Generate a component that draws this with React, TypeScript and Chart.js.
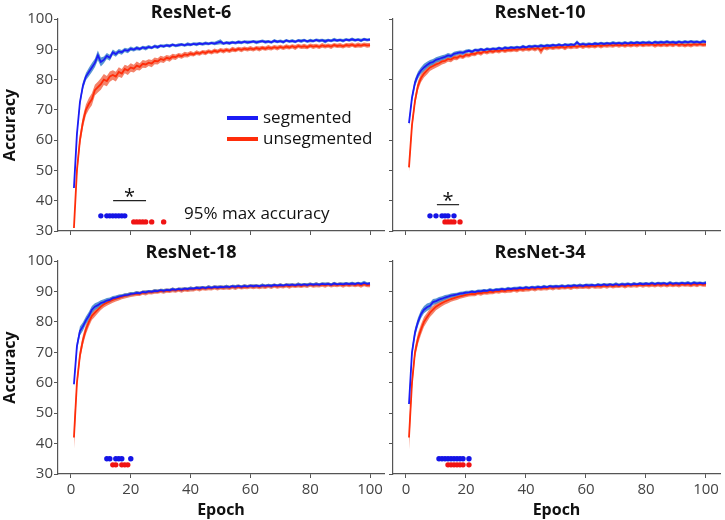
import React, { useEffect, useRef } from 'react';
import { Chart, registerables } from 'chart.js';
Chart.register(...registerables);

const FONT = "'Open Sans', 'DejaVu Sans', sans-serif";

// ---------- data ----------
const EPOCHS = Array.from({ length: 100 }, (_, i) => i + 1);
const X_TICKS = [0, 20, 40, 60, 80, 100];
const Y_TICKS = [30, 40, 50, 60, 70, 80, 90, 100];
const SERIES_NAMES = ['segmented', 'unsegmented'];
const TITLES = ['ResNet-6', 'ResNet-10', 'ResNet-18', 'ResNet-34'];
const SIG_SEG_Y = 35;
const SIG_UNSEG_Y = 33;

const R6_SEG = [
  44.2, 62.0, 72.5, 78.0, 81.0, 82.5, 84.0, 85.5, 88.0, 85.8,
  86.5, 87.8, 87.2, 89.0, 88.4, 89.3, 89.0, 89.8, 89.5, 90.2,
  89.9, 90.4, 90.1, 90.6, 90.3, 90.8, 90.5, 91.0, 90.7, 91.2,
  91.0, 91.3, 91.1, 91.5, 91.2, 91.4, 91.6, 91.3, 91.7, 91.5,
  91.8, 91.6, 91.9, 91.7, 92.0, 91.8, 92.1, 91.9, 92.2, 92.5,
  91.9, 92.2, 92.0, 92.3, 92.1, 92.4, 92.2, 92.5, 92.3, 92.4,
  92.6, 92.3, 92.5, 92.7, 92.4, 92.6, 92.3, 92.8, 92.5, 92.7,
  92.4, 92.9, 92.6, 92.8, 92.5, 92.9, 92.7, 93.0, 92.6, 92.9,
  92.7, 93.1, 92.8, 93.0, 92.6, 93.0, 92.8, 93.2, 92.9, 93.1,
  92.8, 93.2, 93.0, 93.3, 93.0, 93.2, 92.9, 93.3, 93.1, 93.2,
];
const R6_SEG_SD = [
  0.4, 1.0, 1.2, 1.3, 1.2, 1.4, 1.5, 1.4, 1.6, 1.5,
  1.1, 1.0, 1.0, 0.9, 0.9, 0.8, 0.8, 0.7, 0.8, 0.7,
  0.6, 0.7, 0.6, 0.6, 0.7, 0.6, 0.5, 0.6, 0.6, 0.5,
  0.6, 0.5, 0.6, 0.5, 0.5, 0.6, 0.5, 0.5, 0.6, 0.5,
  0.5, 0.6, 0.5, 0.5, 0.6, 0.5, 0.5, 0.6, 0.7, 0.8,
  0.5, 0.5, 0.6, 0.5, 0.5, 0.6, 0.5, 0.5, 0.6, 0.5,
  0.5, 0.6, 0.5, 0.5, 0.6, 0.5, 0.5, 0.6, 0.5, 0.5,
  0.6, 0.5, 0.5, 0.6, 0.5, 0.5, 0.6, 0.5, 0.5, 0.6,
  0.5, 0.5, 0.6, 0.5, 0.7, 0.5, 0.5, 0.6, 0.5, 0.5,
  0.6, 0.5, 0.5, 0.6, 0.5, 0.5, 0.6, 0.5, 0.5, 0.5,
];
const R6_UNSEG = [
  31.0, 50.0, 60.0, 66.0, 70.0, 72.0, 73.5, 76.5, 77.5, 78.5,
  80.0, 79.5, 81.0, 81.5, 81.0, 82.5, 82.0, 83.5, 83.0, 84.0,
  83.6, 84.6, 84.2, 85.2, 85.0, 85.6, 85.3, 86.2, 86.0, 86.8,
  86.5, 87.2, 86.9, 87.6, 87.4, 88.0, 87.7, 88.3, 88.1, 88.6,
  88.3, 88.9, 88.6, 89.1, 88.8, 89.3, 89.0, 89.5, 89.2, 89.7,
  89.4, 89.8, 89.5, 90.0, 89.7, 90.1, 89.8, 90.2, 90.0, 90.3,
  90.0, 90.4, 90.1, 90.5, 90.2, 90.6, 90.3, 90.7, 90.4, 90.8,
  90.5, 90.9, 90.6, 91.0, 90.6, 91.1, 90.8, 91.0, 90.7, 91.2,
  90.9, 91.1, 90.8, 91.3, 91.0, 91.2, 90.9, 91.4, 91.1, 91.3,
  91.0, 91.4, 91.2, 91.5, 91.1, 91.4, 91.2, 91.5, 91.3, 91.4,
];
const R6_UNSEG_SD = [
  0.5, 1.8, 2.0, 1.9, 1.8, 1.9, 2.0, 1.8, 1.8, 1.9,
  1.8, 1.7, 1.7, 1.6, 1.6, 1.6, 1.5, 1.4, 1.5, 1.4,
  1.3, 1.4, 1.2, 1.3, 1.2, 1.1, 1.2, 1.1, 1.0, 1.1,
  1.0, 0.9, 1.0, 0.9, 0.9, 0.8, 0.8, 0.9, 0.8, 0.8,
  0.7, 0.8, 0.7, 0.7, 0.8, 0.7, 0.7, 0.8, 0.7, 0.7,
  0.8, 0.7, 0.7, 0.8, 0.7, 0.7, 0.8, 0.7, 0.7, 0.8,
  0.7, 0.7, 0.8, 0.7, 0.7, 0.8, 0.7, 0.7, 0.8, 0.7,
  0.7, 0.8, 0.7, 0.7, 0.8, 0.7, 0.7, 0.8, 0.7, 0.7,
  0.8, 0.7, 0.7, 0.8, 0.7, 0.7, 0.8, 0.7, 0.7, 0.8,
  0.7, 0.7, 0.8, 0.7, 0.7, 0.8, 0.7, 0.7, 0.8, 0.7,
];
const R10_SEG = [
  65.6, 74.0, 79.0, 81.5, 83.0, 84.0, 84.8, 85.5, 85.8, 86.5,
  86.8, 87.2, 87.5, 88.0, 87.8, 88.5, 88.7, 89.0, 88.8, 89.3,
  89.5, 89.2, 89.8, 89.6, 90.0, 89.7, 90.1, 89.9, 90.2, 90.0,
  90.4, 90.1, 90.5, 90.3, 90.6, 90.4, 90.7, 90.5, 90.9, 90.6,
  91.0, 90.8, 91.1, 90.9, 91.2, 91.0, 91.3, 91.1, 91.4, 91.2,
  91.5, 91.2, 91.6, 91.3, 91.6, 91.4, 92.3, 91.5, 91.8, 91.5,
  91.8, 91.6, 91.9, 91.7, 92.0, 91.7, 92.0, 91.8, 92.1, 91.9,
  92.1, 91.8, 92.2, 91.9, 92.2, 92.0, 92.3, 92.0, 92.3, 92.1,
  92.3, 92.0, 92.4, 92.1, 92.4, 92.2, 92.5, 92.2, 92.4, 92.1,
  92.5, 92.2, 92.5, 92.3, 92.6, 92.3, 92.5, 92.2, 92.6, 92.4,
];
const R10_SEG_SD = [
  0.8, 1.2, 1.3, 1.2, 1.1, 1.2, 1.1, 1.0, 1.0, 0.9,
  0.9, 0.8, 0.8, 0.8, 0.7, 0.7, 0.7, 0.6, 0.7, 0.6,
  0.6, 0.6, 0.5, 0.6, 0.5, 0.5, 0.6, 0.5, 0.5, 0.6,
  0.5, 0.5, 0.6, 0.5, 0.5, 0.6, 0.5, 0.5, 0.6, 0.5,
  0.5, 0.6, 0.5, 0.5, 0.6, 0.5, 0.5, 0.6, 0.5, 0.5,
  0.6, 0.5, 0.5, 0.6, 0.5, 0.5, 0.7, 0.5, 0.5, 0.6,
  0.5, 0.5, 0.6, 0.5, 0.5, 0.6, 0.5, 0.5, 0.6, 0.5,
  0.5, 0.6, 0.5, 0.5, 0.6, 0.5, 0.5, 0.6, 0.5, 0.5,
  0.6, 0.5, 0.5, 0.6, 0.5, 0.5, 0.6, 0.5, 0.5, 0.6,
  0.5, 0.5, 0.6, 0.5, 0.5, 0.6, 0.5, 0.5, 0.6, 0.5,
];
const R10_UNSEG = [
  51.0, 65.0, 73.0, 78.0, 80.5, 82.0, 83.0, 84.0, 84.5, 85.0,
  85.4, 86.0, 86.2, 86.8, 86.6, 87.3, 87.2, 87.8, 87.5, 88.2,
  88.0, 88.6, 88.4, 89.0, 88.7, 89.3, 89.0, 89.5, 89.2, 89.6,
  89.4, 89.8, 89.5, 89.9, 89.7, 90.0, 89.8, 90.2, 89.9, 90.3,
  90.0, 90.4, 90.1, 90.5, 89.6, 90.6, 90.4, 90.7, 90.5, 90.8,
  90.6, 90.9, 90.5, 91.0, 90.7, 91.1, 90.8, 91.2, 90.9, 91.2,
  91.0, 91.3, 91.0, 91.4, 91.1, 91.4, 91.2, 91.5, 91.2, 91.5,
  91.3, 91.5, 91.2, 91.6, 91.3, 91.6, 91.4, 91.7, 91.4, 91.7,
  91.5, 91.7, 91.3, 91.6, 91.4, 91.7, 91.4, 91.7, 91.5, 91.8,
  91.4, 91.7, 91.3, 91.6, 91.4, 91.7, 91.5, 91.8, 91.5, 91.6,
];
const R10_UNSEG_SD = [
  1.5, 1.7, 1.6, 1.5, 1.4, 1.3, 1.3, 1.2, 1.1, 1.1,
  1.0, 1.0, 0.9, 0.9, 0.9, 0.8, 0.8, 0.8, 0.7, 0.8,
  0.7, 0.8, 0.7, 0.7, 0.8, 0.7, 0.7, 0.8, 0.7, 0.7,
  0.8, 0.7, 0.7, 0.8, 0.7, 0.7, 0.8, 0.7, 0.7, 0.8,
  0.7, 0.7, 0.8, 0.7, 1.3, 0.7, 0.8, 0.7, 0.7, 0.8,
  0.7, 0.7, 0.8, 0.7, 0.7, 0.8, 0.7, 0.7, 0.8, 0.7,
  0.7, 0.8, 0.7, 0.7, 0.8, 0.7, 0.7, 0.8, 0.7, 0.7,
  0.8, 0.7, 0.7, 0.8, 0.7, 0.7, 0.8, 0.7, 0.7, 0.8,
  0.7, 0.7, 0.8, 0.7, 0.7, 0.8, 0.7, 0.7, 0.8, 0.7,
  0.7, 0.8, 0.7, 0.7, 0.8, 0.7, 0.7, 0.8, 0.7, 0.7,
];
const R18_SEG = [
  59.5, 72.0, 77.0, 78.5, 80.5, 82.0, 84.0, 85.0, 85.5, 86.2,
  86.5, 87.0, 87.2, 87.8, 88.0, 88.3, 88.5, 88.8, 88.9, 89.2,
  89.3, 89.5, 89.4, 89.8, 89.7, 90.0, 89.9, 90.2, 90.1, 90.4,
  90.2, 90.5, 90.4, 90.7, 90.5, 90.8, 90.6, 90.9, 90.8, 91.0,
  90.9, 91.2, 91.0, 91.3, 91.1, 91.4, 91.2, 91.5, 91.3, 91.5,
  91.4, 91.6, 91.4, 91.7, 91.5, 91.8, 91.5, 91.8, 91.6, 91.9,
  91.7, 91.9, 91.7, 92.0, 91.8, 92.0, 91.8, 92.1, 91.9, 92.1,
  91.9, 92.2, 92.0, 92.2, 92.0, 92.3, 92.1, 92.3, 92.1, 92.4,
  92.2, 92.4, 92.2, 92.5, 92.3, 92.5, 92.2, 92.6, 92.3, 92.5,
  92.3, 92.6, 92.4, 92.6, 92.4, 92.7, 92.4, 92.8, 92.5, 92.6,
];
const R18_SEG_SD = [
  1.0, 1.4, 1.5, 1.4, 1.3, 1.3, 1.2, 1.1, 1.0, 0.9,
  0.9, 0.8, 0.8, 0.7, 0.7, 0.7, 0.6, 0.6, 0.6, 0.6,
  0.5, 0.6, 0.5, 0.5, 0.6, 0.5, 0.5, 0.6, 0.5, 0.5,
  0.6, 0.5, 0.5, 0.6, 0.5, 0.5, 0.6, 0.5, 0.5, 0.6,
  0.5, 0.5, 0.6, 0.5, 0.5, 0.6, 0.5, 0.5, 0.6, 0.5,
  0.5, 0.6, 0.5, 0.5, 0.6, 0.5, 0.5, 0.6, 0.5, 0.5,
  0.6, 0.5, 0.5, 0.6, 0.5, 0.5, 0.6, 0.5, 0.5, 0.6,
  0.5, 0.5, 0.6, 0.5, 0.5, 0.6, 0.5, 0.5, 0.6, 0.5,
  0.5, 0.6, 0.5, 0.5, 0.6, 0.5, 0.5, 0.6, 0.5, 0.5,
  0.6, 0.5, 0.5, 0.6, 0.5, 0.5, 0.6, 0.7, 0.5, 0.5,
];
const R18_UNSEG = [
  42.0, 60.0, 69.0, 74.0, 77.5, 80.0, 82.0, 83.0, 84.0, 85.0,
  85.8, 86.3, 86.8, 87.2, 87.6, 87.9, 88.2, 88.5, 88.7, 89.0,
  89.0, 89.3, 89.2, 89.6, 89.5, 89.8, 89.7, 90.0, 89.9, 90.2,
  90.0, 90.3, 90.2, 90.5, 90.3, 90.6, 90.4, 90.7, 90.5, 90.8,
  90.7, 91.0, 90.8, 91.1, 90.9, 91.2, 91.0, 91.3, 91.1, 91.3,
  91.2, 91.4, 91.2, 91.5, 91.3, 91.6, 91.3, 91.6, 91.4, 91.7,
  91.5, 91.7, 91.4, 91.8, 91.5, 91.8, 91.6, 91.9, 91.6, 91.9,
  91.7, 92.0, 91.7, 92.0, 91.8, 92.1, 91.8, 92.1, 91.9, 92.2,
  91.9, 92.2, 92.0, 92.2, 92.0, 92.3, 92.0, 92.3, 92.1, 92.3,
  92.0, 92.3, 92.1, 92.4, 92.1, 92.3, 92.0, 92.4, 92.1, 92.2,
];
const R18_UNSEG_SD = [
  4.0, 1.9, 1.8, 1.7, 1.6, 1.5, 1.4, 1.3, 1.2, 1.1,
  1.1, 1.0, 1.0, 0.9, 0.9, 0.9, 0.8, 0.8, 0.8, 0.8,
  0.7, 0.8, 0.7, 0.7, 0.8, 0.7, 0.7, 0.8, 0.7, 0.7,
  0.8, 0.7, 0.7, 0.8, 0.7, 0.7, 0.8, 0.7, 0.7, 0.8,
  0.7, 0.7, 0.8, 0.7, 0.7, 0.8, 0.7, 0.7, 0.8, 0.7,
  0.7, 0.8, 0.7, 0.7, 0.8, 0.7, 0.7, 0.8, 0.7, 0.7,
  0.8, 0.7, 0.7, 0.8, 0.7, 0.7, 0.8, 0.7, 0.7, 0.8,
  0.7, 0.7, 0.8, 0.7, 0.7, 0.8, 0.7, 0.7, 0.8, 0.7,
  0.7, 0.8, 0.7, 0.7, 0.8, 0.7, 0.7, 0.8, 0.7, 0.7,
  0.8, 0.7, 0.7, 0.8, 0.7, 0.7, 0.8, 0.7, 0.7, 0.8,
];
const R34_SEG = [
  53.0, 70.0, 76.5, 80.0, 82.5, 84.0, 84.8, 85.3, 86.5, 86.8,
  87.3, 87.6, 88.0, 88.3, 88.6, 88.8, 89.0, 89.3, 89.4, 89.6,
  89.7, 89.9, 89.8, 90.1, 90.0, 90.3, 90.2, 90.5, 90.3, 90.6,
  90.5, 90.8, 90.6, 90.9, 90.8, 91.0, 90.9, 91.2, 91.0, 91.3,
  91.1, 91.4, 91.2, 91.5, 91.3, 91.6, 91.4, 91.7, 91.5, 91.7,
  91.6, 91.8, 91.6, 91.9, 91.7, 92.0, 91.8, 92.0, 91.8, 92.1,
  91.9, 92.1, 91.9, 92.2, 92.0, 92.3, 92.0, 92.3, 92.1, 92.4,
  92.1, 92.4, 92.2, 92.5, 92.2, 92.5, 92.3, 92.6, 92.3, 92.6,
  92.4, 92.7, 92.4, 92.7, 92.5, 92.7, 92.4, 92.8, 92.5, 92.7,
  92.5, 92.8, 92.6, 92.8, 92.5, 92.9, 92.6, 92.8, 92.6, 92.8,
];
const R34_SEG_SD = [
  1.2, 1.5, 1.5, 1.4, 1.3, 1.2, 1.2, 1.1, 1.0, 0.9,
  0.9, 0.8, 0.8, 0.7, 0.7, 0.7, 0.6, 0.6, 0.6, 0.6,
  0.5, 0.6, 0.5, 0.5, 0.6, 0.5, 0.5, 0.6, 0.5, 0.5,
  0.6, 0.5, 0.5, 0.6, 0.5, 0.5, 0.6, 0.5, 0.5, 0.6,
  0.5, 0.5, 0.6, 0.5, 0.5, 0.6, 0.5, 0.5, 0.6, 0.5,
  0.5, 0.6, 0.5, 0.5, 0.6, 0.5, 0.5, 0.6, 0.5, 0.5,
  0.6, 0.5, 0.5, 0.6, 0.5, 0.5, 0.6, 0.5, 0.5, 0.6,
  0.5, 0.5, 0.6, 0.5, 0.5, 0.6, 0.5, 0.5, 0.6, 0.5,
  0.5, 0.6, 0.5, 0.5, 0.6, 0.5, 0.5, 0.6, 0.5, 0.5,
  0.6, 0.5, 0.5, 0.6, 0.5, 0.5, 0.6, 0.5, 0.5, 0.6,
];
const R34_UNSEG = [
  42.0, 60.0, 70.0, 74.5, 77.5, 80.0, 81.5, 83.0, 84.0, 85.0,
  85.6, 86.2, 86.7, 87.1, 87.5, 87.8, 88.1, 88.4, 88.6, 88.9,
  89.0, 89.2, 89.1, 89.5, 89.4, 89.7, 89.6, 89.9, 89.8, 90.1,
  90.0, 90.3, 90.1, 90.4, 90.3, 90.6, 90.4, 90.7, 90.5, 90.8,
  90.7, 91.0, 90.8, 91.1, 90.9, 91.2, 91.0, 91.3, 91.1, 91.4,
  91.2, 91.5, 91.3, 91.5, 91.3, 91.6, 91.4, 91.7, 91.5, 91.7,
  91.5, 91.8, 91.6, 91.8, 91.6, 91.9, 91.7, 92.0, 91.7, 92.0,
  91.8, 92.1, 91.8, 92.1, 91.9, 92.2, 91.9, 92.2, 92.0, 92.2,
  92.0, 92.3, 92.0, 92.3, 92.1, 92.3, 92.0, 92.4, 92.1, 92.3,
  92.1, 92.4, 92.2, 92.4, 92.1, 92.4, 92.2, 92.5, 92.2, 92.3,
];
const R34_UNSEG_SD = [
  4.0, 2.0, 1.9, 1.8, 1.7, 1.6, 1.5, 1.4, 1.3, 1.2,
  1.1, 1.1, 1.0, 1.0, 0.9, 0.9, 0.9, 0.8, 0.8, 0.8,
  0.7, 0.8, 0.7, 0.7, 0.8, 0.7, 0.7, 0.8, 0.7, 0.7,
  0.8, 0.7, 0.7, 0.8, 0.7, 0.7, 0.8, 0.7, 0.7, 0.8,
  0.7, 0.7, 0.8, 0.7, 0.7, 0.8, 0.7, 0.7, 0.8, 0.7,
  0.7, 0.8, 0.7, 0.7, 0.8, 0.7, 0.7, 0.8, 0.7, 0.7,
  0.8, 0.7, 0.7, 0.8, 0.7, 0.7, 0.8, 0.7, 0.7, 0.8,
  0.7, 0.7, 0.8, 0.7, 0.7, 0.8, 0.7, 0.7, 0.8, 0.7,
  0.7, 0.8, 0.7, 0.7, 0.8, 0.7, 0.7, 0.8, 0.7, 0.7,
  0.8, 0.7, 0.7, 0.8, 0.7, 0.7, 0.8, 0.7, 0.7, 0.8,
];

// epochs at which each run reached 95% of its max accuracy
const R6_SIG_SEG = [10, 12, 13, 14, 15, 16, 17, 18];
const R6_SIG_UNSEG = [21, 22, 23, 24, 25, 27, 31];
const R10_SIG_SEG = [8, 10, 12, 13, 14, 16];
const R10_SIG_UNSEG = [13, 14, 15, 16, 18];
const R18_SIG_SEG = [12, 13, 15, 16, 17, 20];
const R18_SIG_UNSEG = [14, 15, 17, 18, 19];
const R34_SIG_SEG = [11, 12, 13, 14, 15, 16, 17, 18, 19, 21];
const R34_SIG_UNSEG = [14, 15, 16, 17, 18, 19, 21];

// significance bars: [from epoch, to epoch, accuracy level]
const R6_BAR = [14.1, 25.1, 40];
const R10_BAR = [10.3, 17.7, 38.7];

// ---------- styles ----------
const BLUE_LINE = '#1c1cf5';
const RED_LINE = '#ff2d0a';
const BLUE_BAND = 'rgba(70, 138, 205, 0.9)';
const RED_BAND = 'rgba(242, 108, 80, 0.85)';
const BLUE_DOT = '#1414e6';
const RED_DOT = '#f01414';
const AXIS = '#555';

interface PanelProps {
  left: number; top: number; width: number; height: number;
  areaTop: number; padRight: number; yAxisW: number; xAxisH: number;
  yLabels: boolean; xLabels: boolean;
  title: string; titleX: number; titleY: number;
  seg: number[]; segSd: number[]; unseg: number[]; unsegSd: number[];
  sigSeg: number[]; sigUnseg: number[];
  bar?: number[];
  legend?: boolean;
}

function Panel(p: PanelProps) {
  const ref = useRef<HTMLCanvasElement>(null);
  useEffect(() => {
    if (!ref.current) return;
    const pts = (vals: number[]) => vals.map((v, i) => ({ x: EPOCHS[i], y: v }));
    const band = (m: number[], s: number[], sign: number) =>
      m.map((v, i) => ({ x: EPOCHS[i], y: v + sign * s[i] }));
    const none = 'rgba(0,0,0,0)';
    const datasets: any[] = [
      { label: SERIES_NAMES[0], data: pts(p.seg), borderColor: BLUE_LINE, borderWidth: 1.8, pointRadius: 0, fill: false },
      { label: SERIES_NAMES[1], data: pts(p.unseg), borderColor: RED_LINE, borderWidth: 1.8, pointRadius: 0, fill: false },
      { data: p.sigSeg.map((e) => ({ x: e, y: SIG_SEG_Y })), showLine: false, pointRadius: 2.7, pointBackgroundColor: BLUE_DOT, pointBorderWidth: 0, borderColor: none },
      { data: p.sigUnseg.map((e) => ({ x: e, y: SIG_UNSEG_Y })), showLine: false, pointRadius: 2.7, pointBackgroundColor: RED_DOT, pointBorderWidth: 0, borderColor: none },
    ];
    if (p.bar) {
      datasets.push({ data: [{ x: p.bar[0], y: p.bar[2] }, { x: p.bar[1], y: p.bar[2] }], borderColor: '#222', borderWidth: 1.2, pointRadius: 0, fill: false });
    }
    datasets.push(
      { data: band(p.seg, p.segSd, 1), borderColor: none, borderWidth: 0, pointRadius: 0, fill: false },
      { data: band(p.seg, p.segSd, -1), borderColor: none, borderWidth: 0, pointRadius: 0, fill: '-1', backgroundColor: BLUE_BAND },
      { data: band(p.unseg, p.unsegSd, 1), borderColor: none, borderWidth: 0, pointRadius: 0, fill: false },
      { data: band(p.unseg, p.unsegSd, -1), borderColor: none, borderWidth: 0, pointRadius: 0, fill: '-1', backgroundColor: RED_BAND },
    );

    const textPlugin = {
      id: 'panelText',
      afterDraw(chart: any) {
        const ctx = chart.ctx;
        const xs = chart.scales.x;
        const ys = chart.scales.y;
        ctx.save();
        ctx.fillStyle = '#111';
        ctx.font = `bold 18px ${FONT}`;
        ctx.textAlign = 'center';
        ctx.textBaseline = 'middle';
        ctx.fillText(p.title, p.titleX, p.titleY);
        if (p.bar) {
          ctx.font = `20px ${FONT}`;
          ctx.textBaseline = 'alphabetic';
          ctx.fillText('*', xs.getPixelForValue((p.bar[0] + p.bar[1]) / 2), ys.getPixelForValue(p.bar[2]) + 2);
        }
        if (p.legend) {
          ctx.lineWidth = 4;
          ctx.strokeStyle = BLUE_LINE;
          ctx.beginPath(); ctx.moveTo(227, 118); ctx.lineTo(258, 118); ctx.stroke();
          ctx.strokeStyle = RED_LINE;
          ctx.beginPath(); ctx.moveTo(227, 139); ctx.lineTo(258, 139); ctx.stroke();
          ctx.font = `17px ${FONT}`;
          ctx.textAlign = 'left';
          ctx.textBaseline = 'middle';
          ctx.fillText(SERIES_NAMES[0], 263, 118);
          ctx.fillText(SERIES_NAMES[1], 263, 139);
          ctx.fillText('95% max accuracy', 184, 214);
        }
        ctx.restore();
      },
    };

    const chart = new Chart(ref.current, {
      type: 'line',
      data: { datasets },
      plugins: [textPlugin],
      options: {
        responsive: false,
        animation: false,
        events: [],
        layout: { padding: { left: 0, top: p.areaTop, right: p.padRight, bottom: 0 } },
        plugins: { legend: { display: false }, tooltip: { enabled: false }, title: { display: false } },
        scales: {
          x: {
            type: 'linear', min: -4.33, max: 104.67,
            afterBuildTicks: (s: any) => { s.ticks = X_TICKS.map((v) => ({ value: v })); },
            afterFit: (s: any) => { s.height = p.xAxisH; },
            grid: { drawOnChartArea: false, drawTicks: true, tickLength: 4, color: AXIS, lineWidth: 1 },
            border: { display: true, color: AXIS, width: 1.2 },
            ticks: { display: p.xLabels, font: { size: 15, family: FONT }, color: '#444', padding: 3, maxRotation: 0, autoSkip: false },
            title: { display: p.xLabels, text: 'Epoch', font: { size: 16, weight: 'bold', family: FONT }, color: '#111', padding: { top: 0, bottom: 0 } },
          },
          y: {
            type: 'linear', min: 30, max: 100,
            afterBuildTicks: (s: any) => { s.ticks = Y_TICKS.map((v) => ({ value: v })); },
            afterFit: (s: any) => { s.width = p.yAxisW; },
            grid: { drawOnChartArea: false, drawTicks: true, tickLength: 4, color: AXIS, lineWidth: 1 },
            border: { display: true, color: AXIS, width: 1.2 },
            ticks: { display: p.yLabels, font: { size: 15, family: FONT }, color: '#444', padding: 1 },
            title: { display: p.yLabels, text: 'Accuracy', font: { size: 16, weight: 'bold', family: FONT }, color: '#111', padding: { top: 1, bottom: 0 } },
          },
        },
      } as any,
    });
    return () => chart.destroy();
  }, []);
  return (
    <canvas
      ref={ref}
      width={p.width}
      height={p.height}
      style={{ position: 'absolute', left: p.left, top: p.top, width: p.width, height: p.height }}
    />
  );
}

export default function App() {
  return (
    <div style={{ position: 'fixed', left: 0, top: 0, width: 725, height: 520, background: '#fff', overflow: 'hidden' }}>
      <Panel left={0} top={0} width={388} height={242} areaTop={19} padRight={3} yAxisW={58} xAxisH={11}
        yLabels={true} xLabels={false} title={TITLES[0]} titleX={191} titleY={13}
        seg={R6_SEG} segSd={R6_SEG_SD} unseg={R6_UNSEG} unsegSd={R6_UNSEG_SD}
        sigSeg={R6_SIG_SEG} sigUnseg={R6_SIG_UNSEG} bar={R6_BAR} legend={true} />
      <Panel left={385} top={0} width={340} height={242} areaTop={19} padRight={5} yAxisW={8} xAxisH={11}
        yLabels={false} xLabels={false} title={TITLES[1]} titleX={155} titleY={13}
        seg={R10_SEG} segSd={R10_SEG_SD} unseg={R10_UNSEG} unsegSd={R10_UNSEG_SD}
        sigSeg={R10_SIG_SEG} sigUnseg={R10_SIG_UNSEG} bar={R10_BAR} />
      <Panel left={0} top={242} width={388} height={278} areaTop={19} padRight={3} yAxisW={58} xAxisH={46}
        yLabels={true} xLabels={true} title={TITLES[2]} titleX={191} titleY={11}
        seg={R18_SEG} segSd={R18_SEG_SD} unseg={R18_UNSEG} unsegSd={R18_UNSEG_SD}
        sigSeg={R18_SIG_SEG} sigUnseg={R18_SIG_UNSEG} />
      <Panel left={385} top={242} width={340} height={278} areaTop={19} padRight={5} yAxisW={8} xAxisH={46}
        yLabels={false} xLabels={true} title={TITLES[3]} titleX={155} titleY={11}
        seg={R34_SEG} segSd={R34_SEG_SD} unseg={R34_UNSEG} unsegSd={R34_UNSEG_SD}
        sigSeg={R34_SIG_SEG} sigUnseg={R34_SIG_UNSEG} />
    </div>
  );
}
